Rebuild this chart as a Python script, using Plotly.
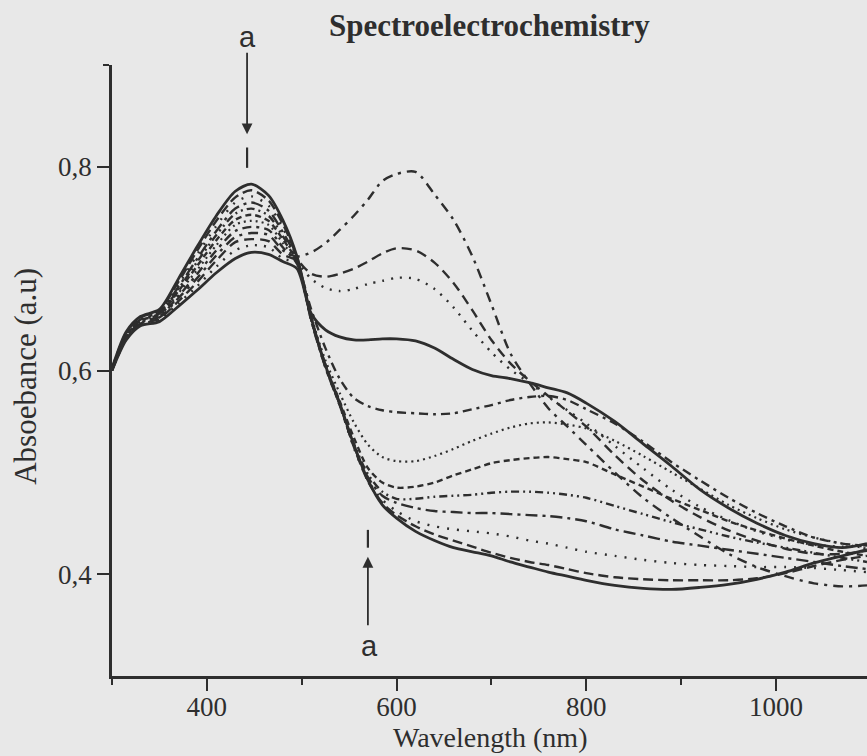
import plotly.graph_objects as go

# Wavelength grid (nm)
wavelength = [300, 315, 330, 350, 370, 390, 410, 430, 447, 465, 480, 495,
              510, 525, 540, 555, 570, 585, 600, 620, 640, 660, 680, 700, 720, 740,
              760, 780, 800, 830, 860, 890, 920, 950, 980, 1010, 1040, 1070, 1096]

bottom_solid = [.602, .638, .653, .660, .690, .722, .752, .776, .783, .772, .748, .712,
                .652, .605, .568, .527, .492, .468, .455, .442, .433, .426, .422, .418, .412, .407,
                .402, .398, .394, .389, .386, .385, .387, .390, .395, .402, .411, .418, .424]
long_dashed = [.602, .637, .652, .659, .687, .718, .747, .770, .777, .767, .744, .711,
               .651, .604, .567, .525, .491, .470, .458, .447, .439, .433, .427, .421, .416, .412,
               .409, .405, .401, .397, .395, .394, .394, .394, .396, .401, .408, .414, .418]
sparse_dotted = [.601, .636, .651, .658, .684, .714, .742, .765, .771, .762, .740, .710,
                 .650, .603, .566, .524, .492, .473, .462, .452, .447, .444, .442, .440, .437, .433,
                 .430, .426, .422, .418, .414, .411, .409, .408, .407, .407, .406, .404, .402]
dashdot_long = [.601, .635, .650, .657, .682, .710, .737, .759, .765, .757, .736, .709,
                .649, .603, .566, .526, .495, .477, .470, .465, .462, .461, .460, .460, .459, .458,
                .457, .455, .452, .444, .438, .432, .428, .424, .420, .416, .412, .408, .405]
dash_dot_dot = [.601, .635, .649, .656, .680, .707, .733, .754, .759, .752, .732, .708,
                .650, .604, .567, .528, .498, .481, .474, .474, .476, .477, .478, .480, .481, .481,
                .480, .478, .475, .467, .459, .451, .444, .437, .431, .426, .421, .416, .412]
short_dashed = [.601, .634, .649, .655, .678, .703, .728, .748, .753, .747, .729, .707,
                .651, .606, .570, .534, .504, .490, .485, .486, .490, .497, .503, .509, .512, .514,
                .515, .513, .510, .498, .486, .474, .463, .452, .443, .435, .428, .422, .418]
dotted_780 = [.601, .633, .648, .654, .676, .699, .723, .743, .747, .743, .725, .706,
              .653, .610, .578, .549, .527, .515, .511, .511, .516, .523, .531, .538, .544, .548,
              .549, .547, .543, .531, .516, .500, .484, .468, .455, .444, .436, .430, .425]
dashdot_780 = [.601, .633, .647, .653, .673, .695, .718, .737, .741, .738, .721, .705,
               .660, .622, .592, .573, .565, .561, .559, .558, .557, .558, .562, .566, .571, .574,
               .575, .571, .562, .548, .530, .510, .492, .475, .460, .447, .436, .430, .428]
dashdot_610 = [.600, .632, .646, .652, .671, .691, .713, .731, .735, .733, .718, .712,
               .716, .725, .738, .752, .768, .786, .793, .795, .773, .748, .712, .665, .617, .588,
               .563, .545, .527, .500, .475, .455, .437, .420, .407, .398, .391, .388, .389]
dashed_610 = [.600, .631, .645, .651, .668, .687, .708, .726, .729, .727, .714, .708,
              .695, .692, .695, .700, .707, .715, .720, .718, .706, .686, .659, .630, .607, .590,
              .575, .560, .545, .517, .492, .472, .456, .443, .433, .425, .420, .420, .423]
dotted_610 = [.600, .631, .645, .650, .666, .683, .702, .718, .723, .721, .710, .706,
              .690, .681, .678, .680, .685, .688, .691, .690, .680, .662, .639, .618, .601, .588,
              .574, .561, .548, .526, .504, .483, .466, .453, .442, .434, .429, .427, .428]
top_solid = [.600, .630, .644, .648, .663, .679, .696, .710, .716, .714, .707, .700,
             .656, .640, .633, .630, .630, .631, .631, .629, .622, .611, .601, .595, .592, .588,
             .583, .578, .568, .550, .528, .506, .483, .465, .450, .438, .430, .426, .430]

series = [
    (bottom_solid, "solid", 2.8),
    (long_dashed, "10px,5px", 2.4),
    (sparse_dotted, "2px,8px", 2.4),
    (dashdot_long, "12px,5px,3px,5px", 2.4),
    (dash_dot_dot, "8px,4px,2px,4px,2px,4px", 2.4),
    (short_dashed, "6px,4px", 2.4),
    (dotted_780, "2px,4px", 2.2),
    (dashdot_780, "9px,5px,3px,5px", 2.4),
    (dashdot_610, "10px,6px,3px,6px", 2.4),
    (dashed_610, "10px,6px", 2.4),
    (dotted_610, "2px,7px", 2.4),
    (top_solid, "solid", 2.8),
]

x_ticks = [400, 600, 800, 1000]
y_ticks = [0.4, 0.6, 0.8]
y_tick_text = ["0,4", "0,6", "0,8"]

ink = "#2e2e2e"
bg = "#e8e8e8"
serif = "Liberation Serif"
sans = "Liberation Sans"

fig = go.Figure()
for ys, dash, w in series:
    fig.add_trace(go.Scatter(x=wavelength, y=ys, mode="lines",
                             line=dict(color=ink, width=w, dash=dash, shape="spline", smoothing=0.8),
                             showlegend=False, hoverinfo="skip"))

fig.update_layout(
    width=867, height=756,
    paper_bgcolor=bg, plot_bgcolor=bg,
    margin=dict(l=112, r=0, t=65, b=80),
    font=dict(family=serif, color=ink, size=27),
    xaxis=dict(range=[300, 1096], showgrid=False, zeroline=False,
               showline=True, linecolor=ink, linewidth=2.5,
               ticks="outside", ticklen=12, tickwidth=2.4, tickcolor=ink,
               tickvals=x_ticks, tickfont=dict(size=27, family=serif),
               ticklabelstandoff=-7,
               minor=dict(tickvals=[300, 500, 700, 900], ticklen=6, tickwidth=2, tickcolor=ink, ticks="outside")),
    yaxis=dict(range=[0.3, 0.9], showgrid=False, zeroline=False,
               showline=True, linecolor=ink, linewidth=2.5,
               ticks="outside", ticklen=12, tickwidth=2.4, tickcolor=ink,
               tickvals=y_ticks, ticktext=y_tick_text, tickfont=dict(size=27, family=serif),
               minor=dict(tickvals=[0.9], ticklen=6, tickwidth=2, tickcolor=ink, ticks="outside")),
)

# Titles
fig.add_annotation(text="<b>Spectroelectrochemistry</b>", xref="paper", yref="paper",
                   x=0.5, y=1.064, showarrow=False, font=dict(size=31, family=serif, color=ink),
                   xanchor="center", yanchor="middle")
fig.add_annotation(text="Wavelength (nm)", xref="paper", yref="paper",
                   x=0.5, y=-0.1005, showarrow=False, font=dict(size=28, family=serif, color=ink),
                   xanchor="center", yanchor="middle")
fig.add_annotation(text="Absoebance (a.u)", xref="paper", yref="paper",
                   x=-0.115, y=0.49, showarrow=False, textangle=-90,
                   font=dict(size=31, family=serif, color=ink),
                   xanchor="center", yanchor="middle")

# Arrow markers "a"
fig.add_annotation(x=442.4, y=0.832, ax=0, ay=-83, text="", showarrow=True,
                   arrowhead=2, arrowsize=1.2, arrowwidth=1.8, arrowcolor=ink,
                   xref="x", yref="y", axref="pixel", ayref="pixel")
fig.add_annotation(x=442.4, y=1.046, text="a", showarrow=False, xref="x", yref="paper",
                   font=dict(size=29, family=sans, color=ink), yanchor="middle")
fig.add_shape(type="line", x0=442.4, x1=442.4, y0=0.799, y1=0.819, xref="x", yref="y",
              line=dict(color=ink, width=2.2))

fig.add_annotation(x=569.8, y=0.417, ax=0, ay=70, text="", showarrow=True,
                   arrowhead=2, arrowsize=1.2, arrowwidth=1.8, arrowcolor=ink,
                   xref="x", yref="y", axref="pixel", ayref="pixel")
fig.add_annotation(x=571.5, y=0.3295, text="a", showarrow=False, xref="x", yref="y",
                   font=dict(size=29, family=sans, color=ink), yanchor="middle")
fig.add_shape(type="line", x0=569.8, x1=569.8, y0=0.426, y1=0.4435, xref="x", yref="y",
              line=dict(color=ink, width=2.2))

fig.write_html("out.html")
